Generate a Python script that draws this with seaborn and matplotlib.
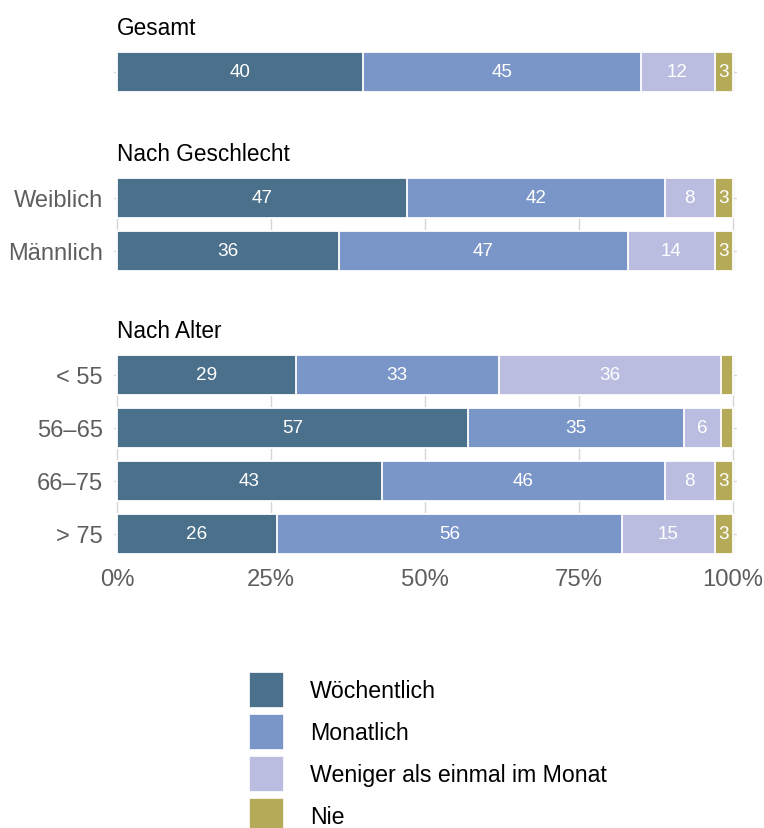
import matplotlib
matplotlib.use("Agg")
import matplotlib.pyplot as plt
import seaborn as sns
import pandas as pd
import numpy as np
from matplotlib.patches import Patch

# ---- data ----
panels = ["Gesamt", "Nach Geschlecht", "Nach Geschlecht",
          "Nach Alter", "Nach Alter", "Nach Alter", "Nach Alter"]
categories = ["Gesamt", "Weiblich", "Männlich", "< 55", "56–65", "66–75", "> 75"]
woechentlich = [40, 47, 36, 29, 57, 43, 26]
monatlich = [45, 42, 47, 33, 35, 46, 56]
weniger = [12, 8, 14, 36, 6, 8, 15]
nie = [3, 3, 3, 2, 2, 3, 3]
series_names = ["Wöchentlich", "Monatlich", "Weniger als einmal im Monat", "Nie"]
colors = ["#4A708B", "#7A96C8", "#BABCE0", "#B5AA58"]
x_ticks = [0, 25, 50, 75, 100]
x_ticklabels = ["0%", "25%", "50%", "75%", "100%"]

df = pd.DataFrame({"panel": panels, "cat": categories,
                   series_names[0]: woechentlich, series_names[1]: monatlich,
                   series_names[2]: weniger, series_names[3]: nie})
vals = df[series_names].to_numpy(dtype=float)
cums = np.cumsum(vals, axis=1)
for j, s in enumerate(series_names):
    df["cum_" + s] = cums[:, j]

sns.set_theme(style="white")
plt.rcParams["font.family"] = ["Liberation Sans", "DejaVu Sans"]

W, H = 764, 829
fig = plt.figure(figsize=(W / 100, H / 100), dpi=100)

px_per_unit = 616 / 100.0
left_px, right_px = 114, 737
xlim = ((left_px - 117) / px_per_unit, (right_px - 117) / px_per_unit)

panel_order = ["Gesamt", "Nach Geschlecht", "Nach Alter"]
panel_tops = [53, 179, 356]
pitch = 53.0
bar_w = 0.75

axes = []
for pname, top in zip(panel_order, panel_tops):
    sub = df[df["panel"] == pname].reset_index(drop=True)
    n = len(sub)
    hpx = (n - 1 + bar_w) * pitch
    ax = fig.add_axes([left_px / W, 1 - (top + hpx) / H,
                       (right_px - left_px) / W, hpx / H])
    for j in range(len(series_names) - 1, -1, -1):
        sns.barplot(data=sub, x="cum_" + series_names[j], y="cat", order=list(sub["cat"]),
                    orient="h", color=colors[j], saturation=1, width=bar_w,
                    errorbar=None, edgecolor="white", linewidth=1.3, ax=ax, zorder=2)
    # labels
    for i in range(n):
        for j, s in enumerate(series_names):
            v = sub.loc[i, s]
            if v >= 3:
                xc = sub.loc[i, "cum_" + s] - v / 2
                ax.text(xc, i, f"{int(v)}", color="white", fontsize=13.6,
                        ha="center", va="center", zorder=5)
    ax.set_xlim(*xlim)
    ax.set_ylim(n - 1 + bar_w / 2, -bar_w / 2)
    ax.set_xlabel("")
    ax.set_ylabel("")
    for sp in ax.spines.values():
        sp.set_visible(False)
    ax.set_axisbelow(True)
    ax.set_xticks(x_ticks)
    ax.xaxis.grid(True, color="#d6d6d6", linewidth=1.0, zorder=0)
    ax.yaxis.grid(True, color="#d6d6d6", linewidth=1.0, zorder=0)
    ax.tick_params(axis="both", length=0)
    ax.tick_params(axis="y", pad=8, labelsize=17, labelcolor="#5e5e5e")
    if pname == "Gesamt":
        ax.set_yticks(range(n))
        ax.set_yticklabels([""] * n)
    else:
        ax.set_yticks(range(n))
        ax.set_yticklabels(list(sub["cat"]))
    if pname == "Nach Alter":
        ax.set_xticklabels(x_ticklabels)
        ax.tick_params(axis="x", pad=10, labelsize=17.2, labelcolor="#5e5e5e")
    else:
        ax.set_xticklabels([""] * len(x_ticks))
    ax.annotate(pname, xy=(0, 1), xycoords=("data", "axes fraction"),
                xytext=(0, 13), textcoords="offset points",
                ha="left", va="baseline", fontsize=16.3, color="black")
    axes.append(ax)

handles = [Patch(facecolor=c, edgecolor="white", linewidth=0.5) for c in colors]
fs = 16.7
fig.legend(handles, series_names, loc="upper left",
           bbox_to_anchor=(249 / W, 1 - 673 / H), bbox_transform=fig.transFigure,
           frameon=False, fontsize=fs, handlelength=1.47, handleheight=1.945,
           labelspacing=0.3, handletextpad=1.15, borderpad=0, borderaxespad=0,
           labelcolor="black")

fig.savefig("out.png", dpi=100)
